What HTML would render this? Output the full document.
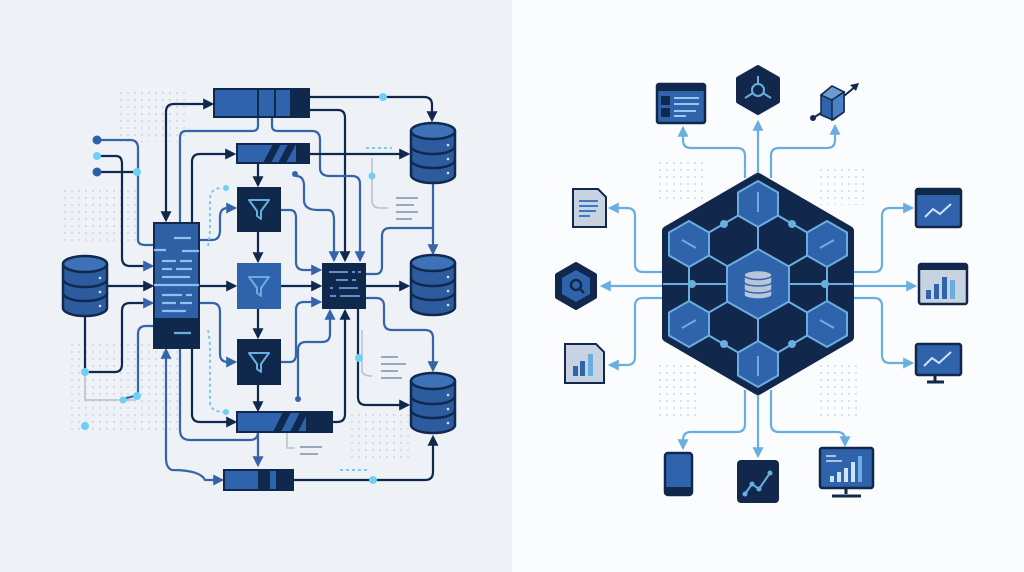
<!DOCTYPE html>
<html><head><meta charset="utf-8"><style>
html,body{margin:0;padding:0;width:1024px;height:572px;overflow:hidden;background:#fff}
</style></head><body>
<svg width="1024" height="572" viewBox="0 0 1024 572" xmlns="http://www.w3.org/2000/svg">
<defs>
<marker id="ad" viewBox="0 0 10 10" refX="8" refY="5" markerWidth="5" markerHeight="5" orient="auto-start-reverse"><path d="M0,0 L10,5 L0,10 z" fill="#10284c"/></marker>
<marker id="ab" viewBox="0 0 10 10" refX="8" refY="5" markerWidth="5" markerHeight="5" orient="auto-start-reverse"><path d="M0,0 L10,5 L0,10 z" fill="#3565a8"/></marker>
<marker id="al" viewBox="0 0 10 10" refX="8" refY="5" markerWidth="5" markerHeight="5" orient="auto-start-reverse"><path d="M0,0 L10,5 L0,10 z" fill="#6aaee0"/></marker>
<pattern id="dots" width="7" height="7" patternUnits="userSpaceOnUse"><circle cx="2" cy="2" r="0.9" fill="#c4ccd8"/></pattern>
<g id="db">
<path d="M0,8 v44 a22,8 0 0 0 44,0 v-44" fill="#2d5c9e" stroke="#10294f" stroke-width="2.5"/>
<ellipse cx="22" cy="8" rx="22" ry="8" fill="#3d72b8" stroke="#10294f" stroke-width="2.5"/>
<path d="M0,23 a22,8 0 0 0 44,0 M0,37 a22,8 0 0 0 44,0" fill="none" stroke="#10294f" stroke-width="2.5"/>
<circle cx="37" cy="22" r="1.3" fill="#cfe0f5"/><circle cx="37" cy="36" r="1.3" fill="#cfe0f5"/><circle cx="37" cy="50" r="1.3" fill="#cfe0f5"/>
</g>
<path id="fun" d="M-10,-9 H10 L2,2 V10 L-2,7 V2 Z" fill="none" stroke="#6aaee0" stroke-width="2" stroke-linejoin="round"/>
<polygon id="hx" points="0,-23 20,-11.5 20,11.5 0,23 -20,11.5 -20,-11.5" fill="#2f64ad" stroke="#6aaee0" stroke-width="2"/>
</defs>
<rect x="0" y="0" width="512" height="572" fill="#eef1f6"/>
<rect x="512" y="0" width="512" height="572" fill="#fbfcfd"/>
<rect x="115" y="92" width="70" height="50" fill="url(#dots)"/>
<rect x="60" y="185" width="80" height="60" fill="url(#dots)"/>
<rect x="70" y="340" width="110" height="90" fill="url(#dots)"/>
<rect x="350" y="410" width="60" height="50" fill="url(#dots)"/>
<rect x="655" y="160" width="50" height="40" fill="url(#dots)"/>
<rect x="815" y="165" width="50" height="40" fill="url(#dots)"/>
<rect x="655" y="365" width="45" height="55" fill="url(#dots)"/>
<rect x="815" y="365" width="45" height="55" fill="url(#dots)"/>

<g fill="none" stroke-width="2.2" stroke-linejoin="round">
<path d="M166,220 V112 Q166,104 174,104 H212" stroke="#10284c" marker-start="url(#ad)" marker-end="url(#ad)"/>
<path d="M309,97 H424 Q432,97 432,105 V120" stroke="#10284c" marker-end="url(#ad)"/>
<path d="M309,110 H338 Q345,110 345,118 V260" stroke="#10284c" marker-end="url(#ad)"/>
<path d="M258,117 V126 Q258,131 252,131 H186 Q180,131 180,138 V222" stroke="#3565a8"/>
<path d="M272,117 V126 Q272,131 278,131 H312 Q320,131 320,140 V168 Q320,176 330,176 H352 Q360,176 360,184 V260" stroke="#3565a8" marker-end="url(#ab)"/>
<path d="M192,222 V162 Q192,154 200,154 H234" stroke="#10284c" marker-end="url(#ad)"/>
<path d="M309,154 H408" stroke="#10284c" marker-end="url(#ad)"/>
<path d="M258,163 V185" stroke="#10284c" marker-end="url(#ad)"/>
<path d="M258,232 V261" stroke="#10284c" marker-end="url(#ad)"/>
<path d="M258,309 V337" stroke="#10284c" marker-end="url(#ad)"/>
<path d="M258,385 V410" stroke="#10284c" marker-end="url(#ad)"/>
<path d="M199,240 H212 Q220,240 220,230 V217 Q220,208 228,208 H235" stroke="#3565a8" marker-end="url(#ab)"/>
<path d="M199,286 H235" stroke="#10284c" marker-end="url(#ad)"/>
<path d="M199,303 H212 Q220,303 220,312 V354 Q220,362 228,362 H235" stroke="#3565a8" marker-end="url(#ab)"/>
<path d="M281,210 H290 Q296,210 296,218 V262 Q296,270 304,270 H320" stroke="#3565a8" marker-end="url(#ab)"/>
<path d="M281,286 H320" stroke="#10284c" marker-end="url(#ad)"/>
<path d="M281,362 H290 Q296,362 296,354 V310 Q296,302 304,302 H320" stroke="#3565a8" marker-end="url(#ab)"/>
<path d="M296,176 Q304,176 304,186 V200 Q304,210 318,210 H328 Q334,210 334,220 V260" stroke="#3565a8" marker-end="url(#ab)"/>
<circle cx="295" cy="174" r="3" fill="#3565a8" stroke="none"/>
<path d="M366,286 H408" stroke="#10284c" marker-end="url(#ad)"/>
<path d="M433,184 V253" stroke="#3565a8" marker-end="url(#ab)"/>
<path d="M366,274 H376 Q382,274 382,266 V236 Q382,228 390,228 H433" stroke="#3565a8"/>
<path d="M366,298 H376 Q384,298 384,306 V322 Q384,330 392,330 H425 Q433,330 433,338 V370" stroke="#3565a8" marker-end="url(#ab)"/>
<path d="M358,309 V397 Q358,405 366,405 H408" stroke="#10284c" marker-end="url(#ad)"/>
<path d="M332,422 H337 Q345,422 345,414 V311" stroke="#10284c" marker-end="url(#ad)"/>
<path d="M298,398 V350 Q298,342 306,342 H322 Q330,342 330,334 V311" stroke="#3565a8" marker-end="url(#ab)"/>
<circle cx="298" cy="399" r="3" fill="#3565a8" stroke="none"/>
<path d="M293,480 H425 Q433,480 433,472 V437" stroke="#10284c" marker-end="url(#ad)"/>
<path d="M107,286 H152" stroke="#10284c" marker-end="url(#ad)"/>
<path d="M85,316 V372 H115 Q122,372 122,364 V311 Q122,303 130,303 H152" stroke="#10284c" marker-end="url(#ab)"/>
<path d="M97,140 H130 Q138,140 138,148 V240 Q138,245 146,245 H154" stroke="#3565a8"/>
<path d="M97,156 H116 Q122,156 122,164 V258 Q122,266 130,266 H152" stroke="#10284c" marker-end="url(#ab)"/>
<path d="M97,172 H137" stroke="#10284c"/>
<path d="M154,326 H146 Q138,326 138,334 V392 Q138,396 126,398" stroke="#3565a8"/>
<path d="M166,458 V350" stroke="#3565a8" marker-end="url(#ab)"/>
<path d="M166,458 Q166,468 172,470 Q200,470 205,480 H222" stroke="#3565a8" marker-end="url(#ab)"/>
<path d="M192,348 V414 Q192,422 200,422 H235" stroke="#10284c" marker-end="url(#ad)"/>
<path d="M180,348 V430 Q180,440 190,440 H250 Q258,440 258,432" stroke="#3565a8"/>
<path d="M258,432 V465" stroke="#3565a8" marker-end="url(#ab)"/>
</g>
<g fill="none" stroke-width="1.8" stroke-dasharray="3 3" stroke="#6ac8ec">
<path d="M208,246 Q210,236 210,228 V200 Q210,188 222,188"/>
<path d="M208,330 Q210,340 210,350 V402 Q210,412 225,412"/>
<path d="M366,148 H392"/><path d="M340,470 H370"/>
</g>
<g fill="none" stroke="#b6bfcc" stroke-width="1.5">
<path d="M372,158 V200 Q372,208 380,208 H388"/>
<path d="M362,330 V370 Q362,376 372,376"/>
<path d="M85,372 V400 H135"/>
<path d="M287,432 V448 H295"/>
</g>
<g stroke="#9aa8bb" stroke-width="2" fill="none">
<path d="M396,198 H418 M396,205 H414 M396,212 H418 M396,219 H412"/>
<path d="M381,357 H398 M381,364 H406 M381,371 H398 M381,378 H402"/>
<path d="M300,447 H322 M300,454 H318"/>
</g>
<g fill="#6ed0f4">
<circle cx="383" cy="97" r="4"/><circle cx="137" cy="172" r="4"/><circle cx="97" cy="156" r="4"/>
<circle cx="85" cy="372" r="4"/><circle cx="137" cy="396" r="4"/><circle cx="123" cy="400" r="3.5"/>
<circle cx="85" cy="426" r="4"/><circle cx="373" cy="480" r="4"/><circle cx="359" cy="358" r="4"/>
<circle cx="372" cy="176" r="3.5"/><circle cx="226" cy="188" r="3"/><circle cx="226" cy="412" r="3"/>
</g>
<circle cx="97" cy="140" r="4.5" fill="#2f5fa5"/><circle cx="97" cy="172" r="4.5" fill="#2f5fa5"/>

<rect x="214" y="89" width="95" height="28" fill="#2f64ad" stroke="#10284c" stroke-width="2"/>
<rect x="290" y="89" width="19" height="28" fill="#10284c"/>
<path d="M258,89 V117 M275,89 V117" stroke="#10284c" stroke-width="2"/>
<rect x="237" y="144" width="72" height="19" fill="#2f64ad" stroke="#10284c" stroke-width="2"/>
<path d="M263,163 L273,144 H281 L271,163 Z M278,163 L288,144 H296 L286,163 Z" fill="#10284c"/>
<rect x="296" y="144" width="13" height="19" fill="#10284c"/>
<rect x="237" y="412" width="95" height="20" fill="#2f64ad" stroke="#10284c" stroke-width="2"/>
<path d="M273,432 L283,412 H291 L281,432 Z M290,432 L300,412 H308 L298,432 Z" fill="#10284c"/>
<rect x="306" y="412" width="26" height="20" fill="#10284c"/>
<rect x="224" y="470" width="69" height="20" fill="#2f64ad" stroke="#10284c" stroke-width="2"/>
<rect x="258" y="470" width="12" height="20" fill="#10284c"/><rect x="276" y="470" width="17" height="20" fill="#10284c"/>
<rect x="237" y="187" width="44" height="45" fill="#10284c"/><use href="#fun" x="259" y="209"/>
<rect x="237" y="263" width="44" height="46" fill="#2f64ad"/><use href="#fun" x="259" y="286"/>
<rect x="237" y="339" width="44" height="46" fill="#10284c"/><use href="#fun" x="259" y="362"/>
<rect x="154" y="223" width="45" height="125" fill="#2f5fa5" stroke="#10284c" stroke-width="2"/>
<rect x="154" y="318" width="45" height="30" fill="#10284c"/>
<g stroke-width="2.2"><path d="M174,238 H191 M154,250 H166 M182,251 H199 M162,261 H176 M180,261 H192 M162,269 H172 M176,269 H192 M162,277 H190 M154,285 H199 M162,295 H182 M186,295 H192 M162,303 H176 M180,303 H192 M162,311 H186" stroke="#8fc0ee"/><path d="M174,333 H191" stroke="#6aaee0"/></g>
<rect x="322" y="263" width="44" height="46" fill="#10284c"/>
<g stroke="#5b8fd0" stroke-width="2"><path d="M329,272 H348 M352,272 H355 M358,272 H361 M336,280 H348 M352,280 H356 M330,288 H333 M339,288 H358 M330,296 H336 M340,296 H360"/></g>
<use href="#db" x="63" y="256"/>
<use href="#db" x="411" y="123"/>
<use href="#db" x="411" y="255"/>
<use href="#db" x="411" y="373"/>

<g fill="none" stroke="#6aaee0" stroke-width="2.2" stroke-linejoin="round">
<path d="M758,175 V122" marker-end="url(#al)"/>
<path d="M745,178 V156 Q745,148 737,148 H691 Q683,148 683,140 V128" marker-end="url(#al)"/>
<path d="M771,178 V156 Q771,148 779,148 H827 Q835,148 835,140 V126" marker-end="url(#al)"/>
<path d="M665,272 H643 Q635,272 635,264 V216 Q635,208 627,208 H610" marker-end="url(#al)"/>
<path d="M665,286 H602" marker-end="url(#al)"/>
<path d="M665,298 H643 Q635,298 635,306 V357 Q635,365 627,365 H610" marker-end="url(#al)"/>
<path d="M851,272 H874 Q882,272 882,264 V216 Q882,208 890,208 H912" marker-end="url(#al)"/>
<path d="M851,286 H915" marker-end="url(#al)"/>
<path d="M851,298 H874 Q882,298 882,306 V355 Q882,363 890,363 H912" marker-end="url(#al)"/>
<path d="M745,390 V424 Q745,432 737,432 H691 Q683,432 683,440 V448" marker-end="url(#al)"/>
<path d="M758,392 V456" marker-end="url(#al)"/>
<path d="M771,390 V424 Q771,432 779,432 H837 Q845,432 845,440 V445" marker-end="url(#al)"/>
</g>

<polygon points="758,178 849,231 849,337 758,390 667,337 667,231" fill="#11284c" stroke="#11284c" stroke-width="10" stroke-linejoin="round"/>
<g stroke="#6aaee0" stroke-width="2" fill="none">
<path d="M663,284 H853"/>
<polygon points="758,204 827,244 827,324 758,364 689,324 689,244"/>
<path d="M758,204 V364 M689,244 L827,324 M827,244 L689,324"/>
</g>
<use href="#hx" x="758" y="204"/><use href="#hx" x="827" y="244"/><use href="#hx" x="827" y="324"/>
<use href="#hx" x="758" y="364"/><use href="#hx" x="689" y="324"/><use href="#hx" x="689" y="244"/>
<g stroke="#6aaee0" stroke-width="2"><path d="M758,192 V212 M758,356 V376 M682,240 L696,248 M834,240 L820,248 M682,328 L696,320 M834,328 L820,320"/></g>
<polygon points="758,249 789,266.5 789,301.5 758,319 727,301.5 727,266.5" fill="#2f64ad" stroke="#6aaee0" stroke-width="2"/>
<g fill="#b9c6d8" stroke="#2f64ad" stroke-width="1.5">
<path d="M744,275 v20 a14,4 0 0 0 28,0 v-20 z"/><ellipse cx="758" cy="275" rx="14" ry="4.5"/>
<path d="M744,282 a14,4 0 0 0 28,0 M744,289 a14,4 0 0 0 28,0" fill="none"/>
</g>
<g fill="#6aaee0"><circle cx="692" cy="284" r="4"/><circle cx="825" cy="284" r="4"/><circle cx="724" cy="224" r="4"/><circle cx="792" cy="224" r="4"/><circle cx="724" cy="344" r="4"/><circle cx="792" cy="344" r="4"/></g>

<rect x="657" y="84" width="48" height="39" rx="2" fill="#2f64ad" stroke="#11284c" stroke-width="2.5"/>
<rect x="657" y="84" width="48" height="7" fill="#11284c"/>
<rect x="661" y="96" width="9" height="9" fill="#11284c"/><rect x="661" y="108" width="9" height="9" fill="#11284c"/>
<path d="M674,98 H699 M674,104 H699 M674,111 H696 M674,116 H686" stroke="#9cc6ee" stroke-width="2"/>
<polygon points="758,67 778,78.5 778,101.5 758,113 738,101.5 738,78.5" fill="#11284c" stroke="#11284c" stroke-width="4" stroke-linejoin="round"/>
<circle cx="758" cy="90" r="6" fill="none" stroke="#6aaee0" stroke-width="2"/><path d="M758,84 V76 M753,93 L745,98 M763,93 L771,98" stroke="#6aaee0" stroke-width="2"/>
<path d="M821,95 L821,115 L833,120 L844,112 L844,92 L832,86 Z" fill="#2f64ad" stroke="#11284c" stroke-width="1.5"/>
<path d="M821,95 L832,100 L844,92 L832,86 Z" fill="#6f9ad0" stroke="#11284c" stroke-width="1.5"/>
<path d="M832,100 V120 L844,112 V92 Z" fill="#4b82c6" stroke="#11284c" stroke-width="1.5"/>
<path d="M813,118 L821,113 M844,96 L856,86" stroke="#11284c" stroke-width="2"/><path d="M859,83 L850,85 L856,91 Z" fill="#11284c"/><circle cx="813" cy="118" r="3" fill="#11284c"/>
<path d="M573,189 H598 L606,197 V227 H573 Z" fill="#c8d3e2" stroke="#11284c" stroke-width="2"/>
<path d="M579,201 H598 M579,206 H598 M579,211 H596 M579,216 H590" stroke="#3d78c2" stroke-width="2"/>
<polygon points="576,264 595,275 595,297 576,308 557,297 557,275" fill="#11284c" stroke="#11284c" stroke-width="4" stroke-linejoin="round"/>
<polygon points="576,270 590,278 590,294 576,302 562,294 562,278" fill="#2f64ad"/>
<circle cx="576" cy="285" r="5" fill="none" stroke="#11284c" stroke-width="2.5"/><path d="M580,289 L584,293" stroke="#11284c" stroke-width="2.5"/>
<path d="M565,344 H596 L604,352 V383 H565 Z" fill="#c8d3e2" stroke="#11284c" stroke-width="2"/>
<rect x="573" y="366" width="5" height="10" fill="#2f64ad"/><rect x="580" y="361" width="5" height="15" fill="#2f64ad"/><rect x="588" y="354" width="5" height="22" fill="#6aaee0"/>
<rect x="916" y="189" width="45" height="38" rx="2" fill="#2f64ad" stroke="#11284c" stroke-width="2.5"/>
<rect x="916" y="189" width="45" height="6" fill="#11284c"/>
<path d="M925,217 L933,209 L940,214 L951,204" stroke="#cfe3f7" stroke-width="2" fill="none"/>
<rect x="919" y="264" width="48" height="40" rx="2" fill="#c8d3e2" stroke="#11284c" stroke-width="2.5"/>
<rect x="919" y="264" width="48" height="6" fill="#11284c"/>
<rect x="926" y="290" width="5" height="9" fill="#2f64ad"/><rect x="934" y="284" width="5" height="15" fill="#2f64ad"/><rect x="942" y="277" width="5" height="22" fill="#2f64ad"/><rect x="950" y="280" width="5" height="19" fill="#6aaee0"/>
<rect x="916" y="344" width="45" height="31" rx="2" fill="#2f64ad" stroke="#11284c" stroke-width="2.5"/>
<path d="M935,376 V381 M927,382 H944" stroke="#11284c" stroke-width="3"/>
<path d="M924,366 L932,358 L939,363 L951,352" stroke="#cfe3f7" stroke-width="2" fill="none"/>
<rect x="665" y="453" width="27" height="42" rx="3" fill="#2f64ad" stroke="#11284c" stroke-width="2.5"/>
<rect x="665" y="487" width="27" height="8" fill="#11284c"/>
<rect x="737" y="460" width="42" height="43" rx="4" fill="#11284c"/>
<path d="M745,494 L752,484 L759,489 L770,473" stroke="#6aaee0" stroke-width="2" fill="none"/>
<g fill="#6aaee0"><circle cx="745" cy="494" r="2.5"/><circle cx="752" cy="484" r="2.5"/><circle cx="759" cy="489" r="2.5"/><circle cx="770" cy="473" r="2.5"/></g>
<rect x="820" y="448" width="53" height="40" rx="2" fill="#2f64ad" stroke="#11284c" stroke-width="2.5"/>
<path d="M846,489 V494 M832,496 H861" stroke="#11284c" stroke-width="3"/>
<path d="M826,456 H836 M826,461 H842" stroke="#cfe3f7" stroke-width="1.5"/>
<rect x="830" y="476" width="4" height="6" fill="#cfe3f7"/><rect x="837" y="472" width="4" height="10" fill="#cfe3f7"/><rect x="844" y="468" width="4" height="14" fill="#cfe3f7"/><rect x="851" y="462" width="4" height="20" fill="#cfe3f7"/><rect x="858" y="456" width="4" height="26" fill="#6aaee0"/>
</svg>
</body></html>
